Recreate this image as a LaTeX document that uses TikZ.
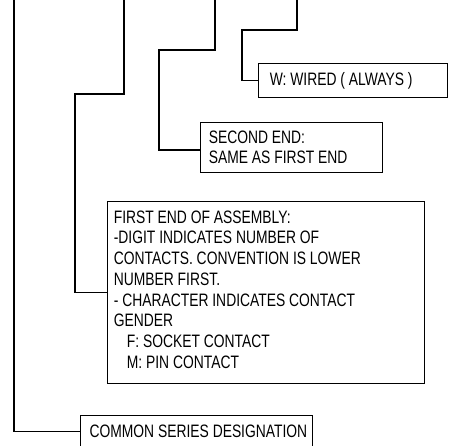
\documentclass[tikz,border=0pt]{standalone}
\usepackage{fontspec}
\setmainfont{Liberation Sans}[FakeStretch=0.77]
\begin{document}
\begin{tikzpicture}[x=1pt,y=-1pt,line width=1.1pt,
  box/.style={draw,inner sep=0pt,anchor=north west},
  lbl/.style={anchor=base west,inner sep=0pt,align=left,font=\fontsize{18}{20.7}\selectfont},
  conn/.style={draw}]
\useasboundingbox (0,0) rectangle (450,446);
% boxes
\node[box,minimum width=189pt,minimum height=34pt] (wbox) at (258,63) {};
\node[box,minimum width=182pt,minimum height=50pt] (sbox) at (200,121.7) {};
\node[box,minimum width=317pt,minimum height=182pt] (fbox) at (107,201) {};
\node[box,minimum width=232pt,minimum height=32pt] (cbox) at (80,414.7) {};
% texts (base = last line's baseline)
\node[lbl] (wt) at (269.3,85.7) {W: WIRED ( ALWAYS )};
\node[lbl] (st) at (208.3,164) {SECOND END:\\SAME AS FIRST END};
\node[lbl] (ft) at (113.3,368.2) {FIRST END OF ASSEMBLY:\\-DIGIT INDICATES NUMBER OF\\CONTACTS. CONVENTION IS LOWER\\NUMBER FIRST.\\- CHARACTER INDICATES CONTACT\\GENDER\\\hspace*{13pt}F: SOCKET CONTACT\\\hspace*{13pt}M: PIN CONTACT};
\node[lbl] (ct) at (89,437.5) {COMMON SERIES DESIGNATION};
% connectors
\coordinate (w0) at (297,-2);
\coordinate (w1) at (242,30);
\draw[conn] (w0) |- (w1) |- (wbox.west);
\coordinate (s0) at (215,-2);
\coordinate (s1) at (159,50);
\coordinate (s2) at (159,150);
\draw[conn] (s0) |- (s1) -- (s2) -- (s2 -| sbox.west);
\coordinate (f0) at (124,-2);
\coordinate (f1) at (75,94);
\draw[conn] (f0) |- (f1) |- (fbox.west);
\coordinate (c0) at (14,-2);
\draw[conn] (c0) |- (cbox.west);
\end{tikzpicture}
\end{document}
